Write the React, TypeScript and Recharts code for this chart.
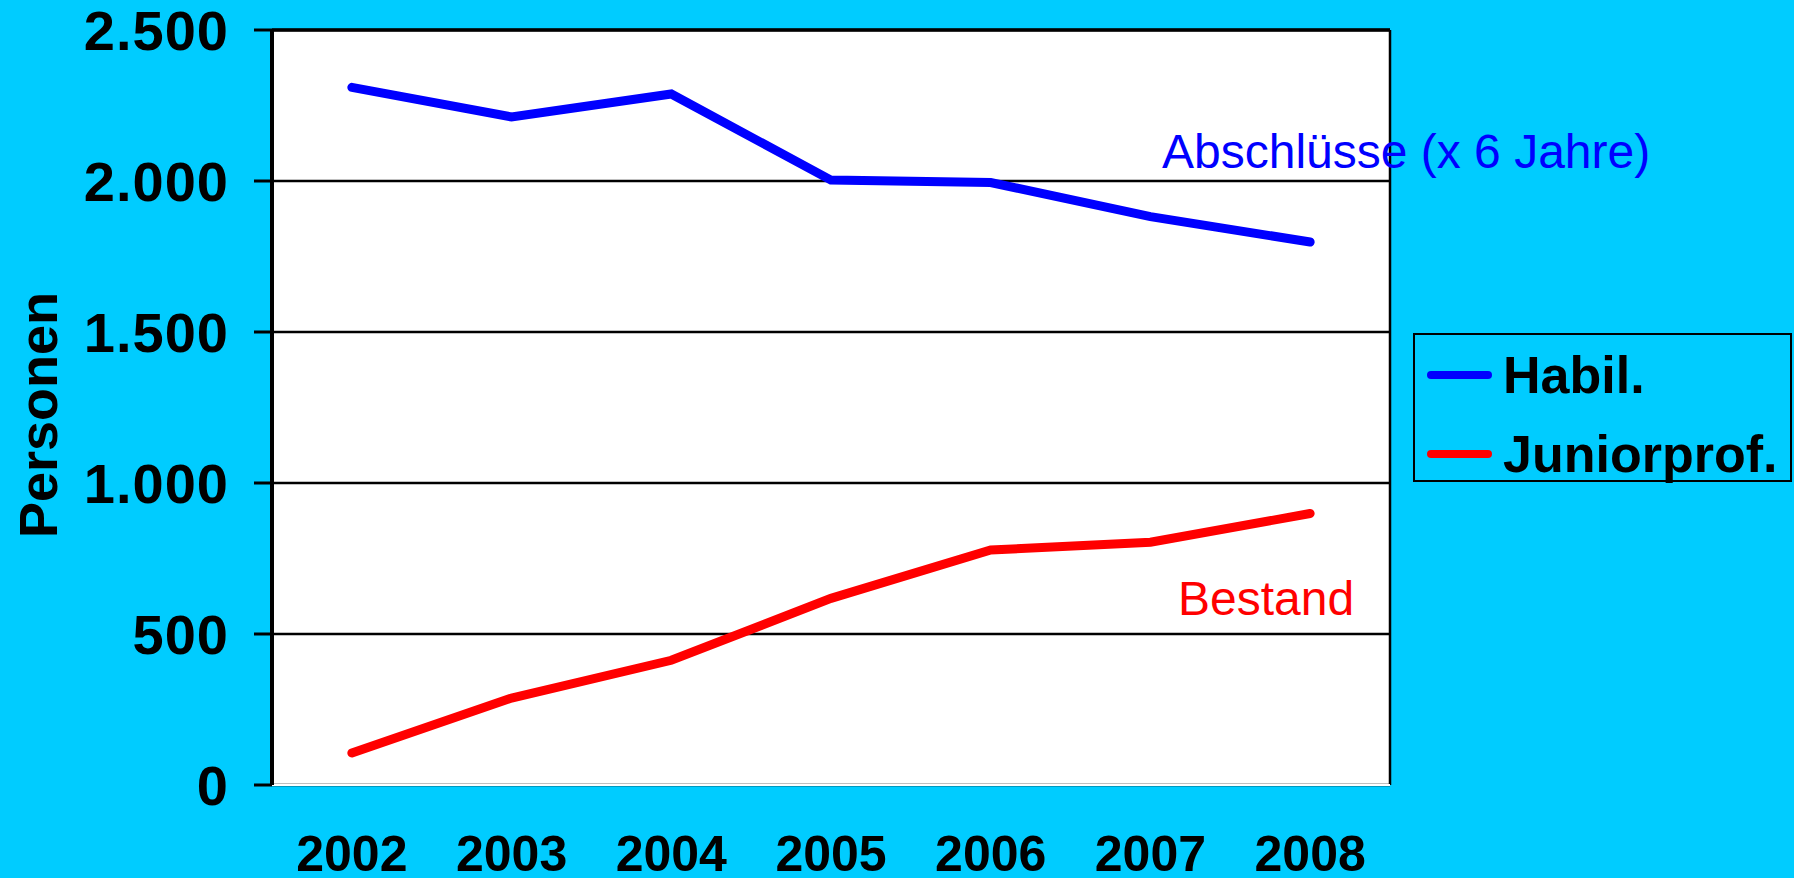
import React from "react";
import {
  LineChart,
  Line,
  XAxis,
  YAxis,
  CartesianGrid,
  ReferenceLine,
  Legend,
  Label,
} from "recharts";

const years = ["2002", "2003", "2004", "2005", "2006", "2007", "2008"];
const habil = [2310, 2212, 2288, 2003, 1995, 1882, 1798];
const junior = [106, 288, 413, 618, 778, 804, 899];
const yTicks = [0, 500, 1000, 1500, 2000, 2500];

const data = years.map((year, i) => ({
  pos: i + 0.5,
  year,
  habil: habil[i],
  junior: junior[i],
}));
const bounds = years.map((_, i) => i).concat(years.length);
const centers = years.map((_, i) => i + 0.5);

const FONT = "'Liberation Sans', Arial, sans-serif";
const BG = "#00CCFF";

const fmt = (v: number) => String(v).replace(/\B(?=(\d{3})+(?!\d))/g, ".");

function LegendBox({ payload }: any) {
  return (
    <div
      style={{
        width: 379,
        height: 149,
        boxSizing: "border-box",
        border: "2px solid #000",
        background: BG,
        fontFamily: FONT,
        fontWeight: "bold",
        fontSize: 52,
        color: "#000",
        paddingTop: 0,
      }}
    >
      {(payload || []).map((p: any) => (
        <div
          key={p.value}
          style={{ display: "flex", alignItems: "center", height: 79 }}
        >
          <svg width={88} height={20} style={{ flex: "none" }}>
            <line
              x1={16}
              y1={10}
              x2={73}
              y2={10}
              stroke={p.color}
              strokeWidth={8}
              strokeLinecap="round"
            />
          </svg>
          <span style={{ whiteSpace: "nowrap" }}>{p.value}</span>
        </div>
      ))}
    </div>
  );
}

export default function App() {
  return (
    <div
      style={{
        position: "absolute",
        left: 0,
        top: 0,
        width: 1794,
        height: 878,
        background: BG,
        overflow: "hidden",
      }}
    >
      <LineChart
        width={1794}
        height={878}
        data={data}
        margin={{ top: 30, right: 404, left: 0, bottom: 0 }}
      >
        <CartesianGrid
          vertical={false}
          stroke="#000"
          strokeWidth={2.5}
          fill="#fff"
          strokeOpacity={1}
        />
        <XAxis
          xAxisId="grid"
          dataKey="pos"
          type="number"
          domain={[0, years.length]}
          ticks={bounds}
          tick={false}
          tickSize={16}
          tickLine={{ stroke: "#fff", strokeWidth: 2 }}
          axisLine={{ stroke: "#fff", strokeWidth: 2 }}
          height={16}
        />
        <XAxis
          xAxisId="lab"
          dataKey="pos"
          type="number"
          domain={[0, years.length]}
          ticks={centers}
          tickFormatter={(v: number) => years[Math.floor(v)]}
          axisLine={false}
          tickLine={false}
          tickSize={0}
          tickMargin={34}
          height={77}
          interval={0}
          tick={{ fontSize: 50, fontWeight: "bold", fill: "#000", fontFamily: FONT }}
        />
        <YAxis
          width={272}
          domain={[0, 2500]}
          ticks={yTicks}
          interval={0}
          tickFormatter={fmt}
          tickSize={18}
          tickMargin={25}
          tickLine={{ stroke: "#000", strokeWidth: 3 }}
          axisLine={{ stroke: "#000", strokeWidth: 4 }}
          tick={{
            fontSize: 56,
            fontWeight: "bold",
            fill: "#000",
            fontFamily: FONT,
            letterSpacing: 1,
          }}
        >
          <Label
            content={() => (
              <text
                x={38}
                y={415}
                transform="rotate(-90 38 415)"
                textAnchor="middle"
                dominantBaseline="central"
                fontFamily={FONT}
                fontWeight="bold"
                fontSize={54}
                fill="#000"
              >
                Personen
              </text>
            )}
          />
        </YAxis>
        <ReferenceLine xAxisId="grid" x={years.length} stroke="#000" strokeWidth={2.5} />
        <ReferenceLine xAxisId="grid" y={2500} stroke="#000" strokeWidth={3.5} />
        <Line
          xAxisId="grid"
          dataKey="habil"
          name="Habil."
          stroke="#0000FF"
          strokeWidth={9}
          strokeLinecap="round"
          dot={false}
          activeDot={false}
          isAnimationActive={false}
        />
        <Line
          xAxisId="grid"
          dataKey="junior"
          name="Juniorprof."
          stroke="#FF0000"
          strokeWidth={9}
          strokeLinecap="round"
          dot={false}
          activeDot={false}
          isAnimationActive={false}
        />
        <Legend
          layout="horizontal"
          align="center"
          verticalAlign="middle"
          wrapperStyle={{ left: 1413, top: 333, width: 379, height: 149 }}
          content={<LegendBox />}
        />
      </LineChart>
      <svg
        width={1794}
        height={878}
        style={{ position: "absolute", left: 0, top: 0, pointerEvents: "none" }}
      >
        <text
          x={1162}
          y={151}
          dominantBaseline="central"
          fontFamily={FONT}
          fontSize={48}
          fill="#0000FF"
        >
          Abschlüsse (x 6 Jahre)
        </text>
        <text
          x={1178}
          y={598}
          dominantBaseline="central"
          fontFamily={FONT}
          fontSize={48}
          fill="#FF0000"
        >
          Bestand
        </text>
      </svg>
    </div>
  );
}
